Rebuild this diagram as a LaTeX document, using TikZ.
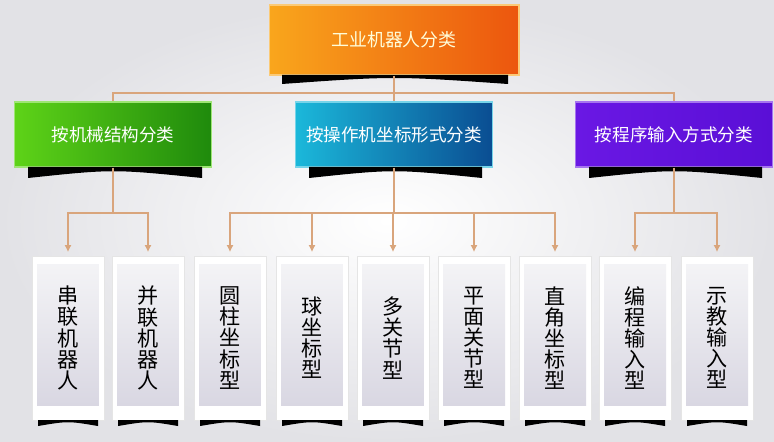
\documentclass[tikz,border=0pt]{standalone}
\usepackage{fontspec}
\newfontfamily\cjk{Noto Sans CJK SC}
\usetikzlibrary{arrows.meta}
\definecolor{linktan}{HTML}{D9A57C}
\definecolor{orangeL}{HTML}{F9A61C}
\definecolor{orangeR}{HTML}{EC560E}
\definecolor{greenL}{HTML}{5ED318}
\definecolor{greenR}{HTML}{1F8A0C}
\definecolor{blueL}{HTML}{1BB8DA}
\definecolor{blueR}{HTML}{0A4D92}
\definecolor{purpleL}{HTML}{6A18E4}
\definecolor{purpleR}{HTML}{5A0FD6}
\definecolor{leaftop}{HTML}{F5F5F7}
\definecolor{leafbot}{HTML}{D6D4E0}
\definecolor{backedge}{HTML}{E2E2E6}

\begin{document}
\begin{tikzpicture}
[x=0.02cm, y=-0.02cm,
>={Latex[length=4pt,width=4pt]},
conn/.style={draw=linktan, line width=1.2pt},
headbox/.style={rectangle, minimum width=3.94cm, minimum height=1.3cm,
  line width=0.6pt, text=white, font=\cjk\fontsize{10}{12}\selectfont},
leaf/.style={rectangle, minimum width=1.44cm, minimum height=3.28cm,
  fill=white, draw=gray!20, align=center,
  font=\cjk\fontsize{12}{12}\selectfont,
  path picture={\shade[top color=leaftop, bottom color=leafbot]
    ([shift={(0.1cm,-0.16cm)}]path picture bounding box.north west) rectangle
    ([shift={(-0.1cm,0.28cm)}]path picture bounding box.south east);}}]
  % background
  \shade[inner color=white, outer color=backedge] (0,0) rectangle (774,442);
  \useasboundingbox (0,0) rectangle (774,442);
  % boxes
  \node [rectangle, minimum width=5cm, minimum height=1.4cm, left color=orangeL,
    right color=orangeR, draw=orangeL!60!white, line width=0.6pt, text=yellow!15,
    font=\cjk\fontsize{10.2}{12}\selectfont] (robot) at (394,40) {工业机器人分类};
  \node [headbox, left color=greenL, right color=greenR, draw=greenL!60!white]
    (mech) at (113,134.5) {按机械结构分类};
  \node [headbox, left color=blueL, right color=blueR, draw=blueL!60!white]
    (coord) at (394,134.5) {按操作机坐标形式分类};
  \node [headbox, left color=purpleL, right color=purpleR, draw=purpleL!60!white]
    (prog) at (674,134.5) {按程序输入方式分类};
  \node [leaf] (chuan) at (68,338) {串\\联\\机\\器\\人};
  \node [leaf] (bing) at (148,338) {并\\联\\机\\器\\人};
  \node [leaf] (yuanzhu) at (230,338) {圆\\柱\\坐\\标\\型};
  \node [leaf] (qiu) at (312,338) {球\\坐\\标\\型};
  \node [leaf] (duoguan) at (393,338) {多\\关\\节\\型};
  \node [leaf] (pingmian) at (474,338) {平\\面\\关\\节\\型};
  \node [leaf] (zhijiao) at (555,338) {直\\角\\坐\\标\\型};
  \node [leaf] (biancheng) at (635,338) {编\\程\\输\\入\\型};
  \node [leaf] (shijiao) at (717,338) {示\\教\\输\\入\\型};
  % shadows under the boxes
  \fill (282,75) -- (508,75) -- (508,84) .. controls (394,76) .. (282,84) -- cycle;
  \fill (28,167) -- (202,167) -- (202,178) .. controls (113,169) .. (28,178) -- cycle;
  \fill (309,167) -- (482,167) -- (482,178) .. controls (394,169) .. (309,178) -- cycle;
  \fill (589,167) -- (762,167) -- (762,178) .. controls (674,169) .. (589,178) -- cycle;
  \fill (38,420) -- (98,420) -- (98,426) .. controls (68,421) .. (38,426) -- cycle;
  \fill (118,420) -- (178,420) -- (178,426) .. controls (148,421) .. (118,426) -- cycle;
  \fill (200,420) -- (260,420) -- (260,426) .. controls (230,421) .. (200,426) -- cycle;
  \fill (282,420) -- (342,420) -- (342,426) .. controls (312,421) .. (282,426) -- cycle;
  \fill (363,420) -- (423,420) -- (423,426) .. controls (393,421) .. (363,426) -- cycle;
  \fill (444,420) -- (504,420) -- (504,426) .. controls (474,421) .. (444,426) -- cycle;
  \fill (525,420) -- (585,420) -- (585,426) .. controls (555,421) .. (525,426) -- cycle;
  \fill (605,420) -- (665,420) -- (665,426) .. controls (635,421) .. (605,426) -- cycle;
  \fill (687,420) -- (747,420) -- (747,426) .. controls (717,421) .. (687,426) -- cycle;
  % connectors
  \coordinate (tophub) at (394,93);
  \coordinate (mechhub) at (113,213);
  \coordinate (coordhub) at (394,213);
  \coordinate (proghub) at (674,213);
  \draw [conn] (robot.south) -- (coord.north);
  \draw [conn] (tophub) -| (mech.north);
  \draw [conn] (tophub) -| (prog.north);
  \draw [conn] (mech.south) -- (mechhub);
  \draw [conn] (coord.south) -- (coordhub);
  \draw [conn] (prog.south) -- (proghub);
  \draw [conn, ->, shorten >=2pt] (mechhub) -| (chuan.north);
  \draw [conn, ->, shorten >=2pt] (mechhub) -| (bing.north);
  \draw [conn, ->, shorten >=2pt] (coordhub) -| (yuanzhu.north);
  \draw [conn, ->, shorten >=2pt] (coordhub) -| (qiu.north);
  \draw [conn, ->, shorten >=2pt] (coordhub) -| (duoguan.north);
  \draw [conn, ->, shorten >=2pt] (coordhub) -| (pingmian.north);
  \draw [conn, ->, shorten >=2pt] (coordhub) -| (zhijiao.north);
  \draw [conn, ->, shorten >=2pt] (proghub) -| (biancheng.north);
  \draw [conn, ->, shorten >=2pt] (proghub) -| (shijiao.north);
\end{tikzpicture}
\end{document}
